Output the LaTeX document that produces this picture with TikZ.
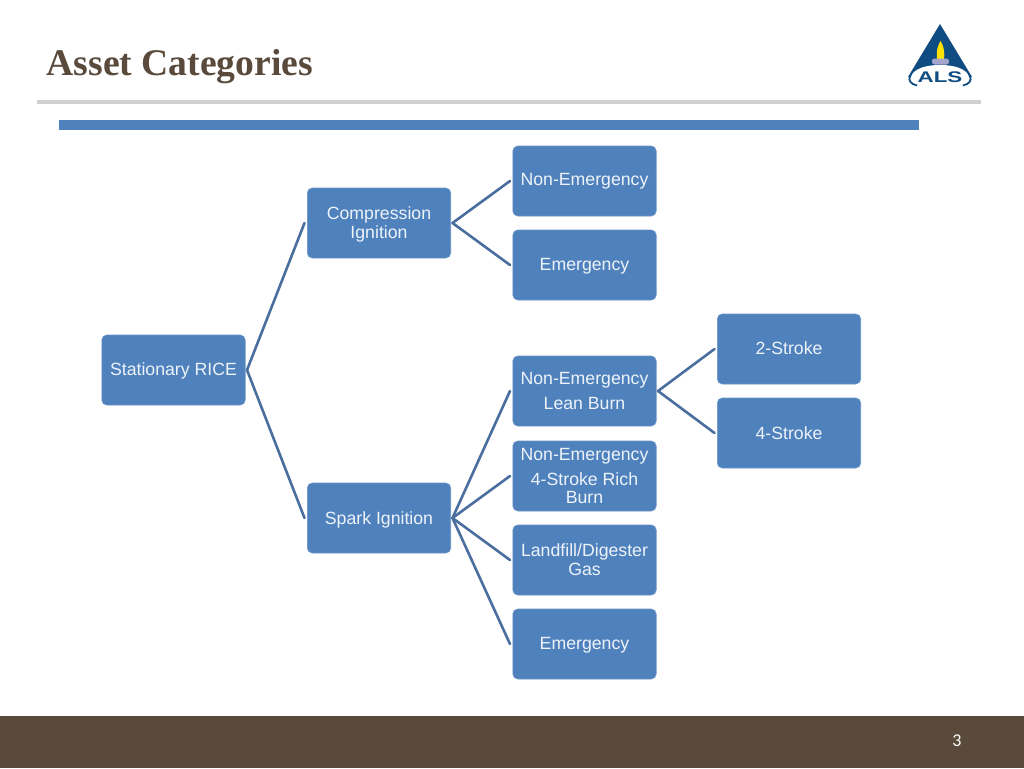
\documentclass[tikz,border=0pt]{standalone}
\usepackage{fontspec}
\setmainfont{Liberation Sans}
\newfontfamily\titlefont{Liberation Serif}
\newfontfamily\numfont{Carlito}
\definecolor{boxblue}{HTML}{4F81BD}
\definecolor{linkblue}{HTML}{4A6F9F}
\definecolor{brownbar}{HTML}{594A3C}
\definecolor{rulegrey}{HTML}{D0D0D0}
\definecolor{logoblue}{HTML}{0F4C81}
\definecolor{boxtext}{HTML}{EEF3F9}
\tikzset{
  box/.style={draw=boxblue!85!white, line width=0.6pt, fill=boxblue, rounded corners=5pt,
    minimum width=143.4pt, minimum height=70pt, inner sep=0pt, align=center,
    text=boxtext, font=\fontsize{17.7}{18.7}\selectfont},
  link/.style={draw=linkblue, line width=2.6pt, line cap=round},
}
\begin{document}
\begin{tikzpicture}[x=1pt,y=-1pt]
\useasboundingbox (0,0) rectangle (1024,768);
\fill[white] (0,0) rectangle (1024,768);
% frame
\fill[brownbar] (0,716) rectangle (1024,768);
\fill[rulegrey] (37,100) rectangle (981,104);
\fill[boxblue] (59,120) rectangle (919,130);
\node[anchor=base west, inner sep=0pt, text=brownbar, font=\titlefont\bfseries\fontsize{37.6}{40}\selectfont] (title) at (46.5,75.5) {Asset Categories};
\node[anchor=base, inner sep=0pt, text=white, font=\numfont\fontsize{18}{20}\selectfont] (page) at (957,746.5) {3};
% logo
\fill[logoblue] (940,24) -- (972,77) -- (908,77) -- cycle;
\fill[white] (940,65) .. controls (960,65) and (969,72) .. (969,78) .. controls (969,84) and (958,87) .. (940,87) .. controls (922,87) and (911,84) .. (911,78) .. controls (911,72) and (920,65) .. (940,65) -- cycle;
\draw[logoblue, line width=1.8pt] (910,76) .. controls (908,81) and (911,84) .. (917,85.5);
\draw[logoblue, line width=1.8pt] (970,76) .. controls (972,81) and (969,84) .. (963,85.5);
\fill[yellow!85!orange] (940.5,41) .. controls (943,45) and (945,50) .. (944,59) -- (937,59) .. controls (936,50) and (938,45) .. (940.5,41) -- cycle;
\fill[gray!70!blue!55!white, rounded corners=2.5pt] (932,58.5) rectangle (949,64.5);
\node[inner sep=0pt, text=logoblue, font=\bfseries\fontsize{15.4}{18}\selectfont] (logotext) at (940,77.5) {\scalebox{1.45}[1]{ALS}};
% boxes
\node[box] (rice) at (173.5,370) {\rule{0pt}{15pt}Stationary RICE};
\node[box] (ci) at (379,223) {\rule{0pt}{15.5pt}Compression\\Ignition};
\node[box] (si) at (379,518) {\rule{0pt}{17pt}Spark Ignition};
\node[box] (ne1) at (584.5,181) {Non-Emergency};
\node[box] (em1) at (584.5,265) {\rule{0pt}{15pt}Emergency};
\node[box] (lean) at (584.5,391) {Non-Emergency\\[6.5pt]Lean Burn};
\node[box] (rich) at (584.5,476) {Non-Emergency\\[6.5pt]4-Stroke Rich\\Burn};
\node[box] (land) at (584.5,560) {Landfill/Digester\\Gas};
\node[box] (em2) at (584.5,644) {\rule{0pt}{15pt}Emergency};
\node[box] (two) at (789,349) {\raisebox{1pt}{2-Stroke}};
\node[box] (four) at (789,433) {4-Stroke};
% connectors
\foreach \a/\b in {rice/ci,rice/si,ci/ne1,ci/em1,si/lean,si/rich,si/land,si/em2,lean/two,lean/four}
  \draw[link] ([xshift=1.5pt]\a.east) -- ([xshift=-2.5pt]\b.west);
\end{tikzpicture}
\end{document}
